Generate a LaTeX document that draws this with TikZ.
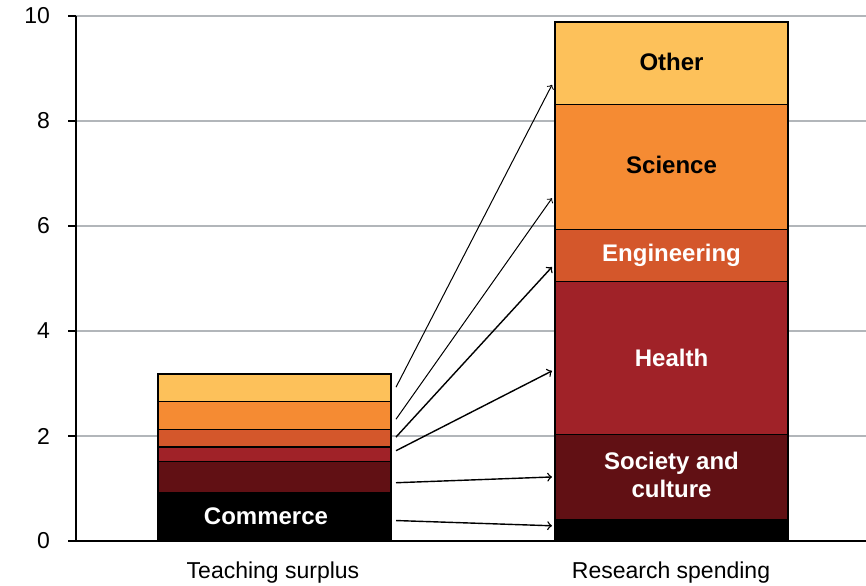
\documentclass[tikz,border=0pt]{standalone}
\usepackage{fontspec}
\setmainfont{Liberation Sans}
\usepackage{xcolor}

\definecolor{cOther}{HTML}{FDC15A}
\definecolor{cScience}{HTML}{F58B33}
\definecolor{cEngineering}{HTML}{D4572B}
\definecolor{cHealth}{HTML}{A02228}
\definecolor{cSociety}{HTML}{611014}
\definecolor{gridgray}{HTML}{B2B6BA}

\begin{document}
\begin{tikzpicture}[x=0.5pt, y=26.25pt,
        seg/.style={draw=black, line width=0.6pt},
        blab/.style={font=\bfseries\fontsize{12}{14}\selectfont, align=center},
        ticklab/.style={anchor=east, font=\fontsize{11.5}{13}\selectfont},
        catlab/.style={anchor=base, font=\fontsize{11.5}{13}\selectfont},
        flow/.style={->, line width=0.7pt}]
        \useasboundingbox (0,-0.838) rectangle (866,10.305);

        % Gridlines and value axis
        \foreach \v in {2,4,...,10}
            \draw[gridgray, line width=0.75pt] (76,\v) -- (866,\v);
        \foreach \v in {0,2,...,10} {
            \draw[line width=0.8pt] (68,\v) -- (76,\v);
            \node[ticklab] (tick\v) at (57,\v) {\v};
        }
        \draw[line width=0.8pt] (76,10) -- (76,0) -- (866,0);

        % Teaching surplus bar
        \filldraw[seg, fill=black] (158,0) rectangle (391,0.92);
        \filldraw[seg, fill=cSociety] (158,0.92) rectangle (391,1.51);
        \filldraw[seg, fill=cHealth] (158,1.51) rectangle (391,1.79);
        \filldraw[seg, fill=cEngineering] (158,1.79) rectangle (391,2.13);
        \filldraw[seg, fill=cScience] (158,2.13) rectangle (391,2.65);
        \filldraw[seg, fill=cOther] (158,2.65) rectangle (391,3.18);
        \node[blab, white] (commerce) at (266,0.48) {Commerce};

        % Research spending bar
        \filldraw[seg, fill=black] (555,0) rectangle (788,0.41);
        \filldraw[seg, fill=cSociety] (555,0.41) rectangle (788,2.03);
        \filldraw[seg, fill=cHealth] (555,2.03) rectangle (788,4.95);
        \filldraw[seg, fill=cEngineering] (555,4.95) rectangle (788,5.94);
        \filldraw[seg, fill=cScience] (555,5.94) rectangle (788,8.31);
        \filldraw[seg, fill=cOther] (555,8.31) rectangle (788,9.886);
        \node[blab, white] (society) at (671.5,1.26) {Society and\\culture};
        \node[blab, white] (health) at (671.5,3.49) {Health};
        \node[blab, white] (engineering) at (671.5,5.45) {Engineering};
        \node[blab] (science) at (671.5,7.17) {Science};
        \node[blab] (other) at (671.5,9.13) {Other};

        % Flows from teaching surplus to research spending
        \foreach \n/\a/\b/\w in {com/0.39/0.29/0.7, soc/1.11/1.22/0.7,
                hea/1.72/3.24/0.7, eng/1.98/5.22/0.7,
                sci/2.32/6.53/0.5, oth/2.93/8.69/0.5} {
            \coordinate (\n-s) at (396,\a);
            \coordinate (\n-e) at (552,\b);
            \draw[flow, line width=\w pt] (\n-s) -- (\n-e);
        }

        % Category labels
        \node[catlab] (teaching) at (273,-0.72) {Teaching surplus};
        \node[catlab] (research) at (671,-0.72) {Research spending};
    \end{tikzpicture}
\end{document}
